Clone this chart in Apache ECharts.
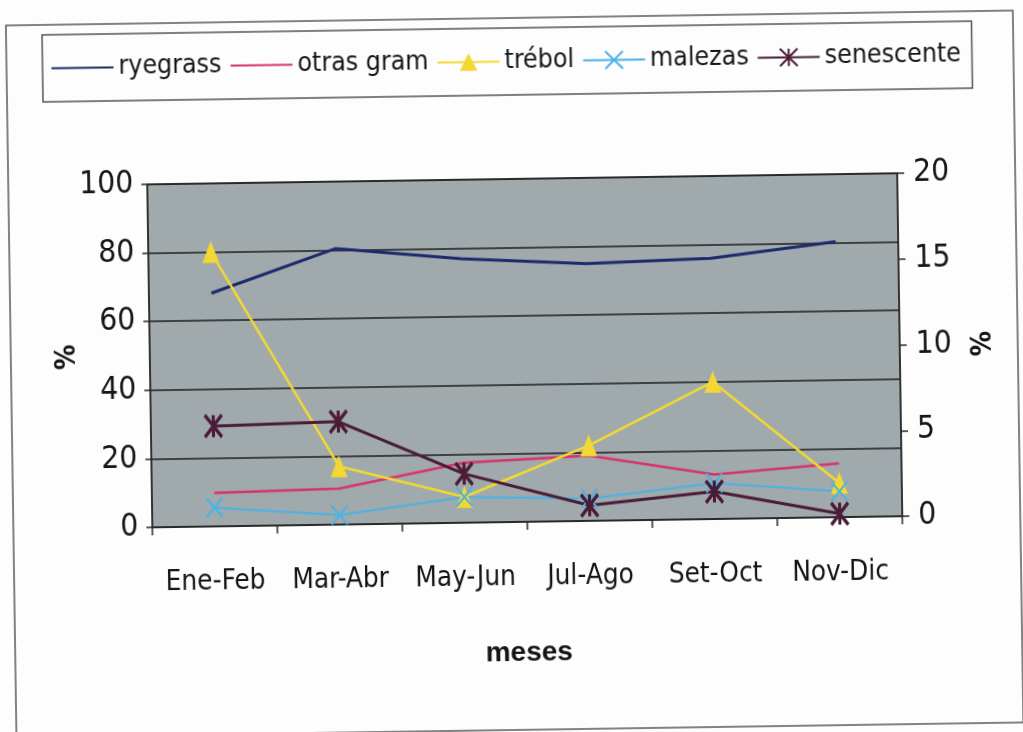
<!DOCTYPE html>
<html>
<head>
<meta charset="utf-8">
<script src="https://cdn.jsdelivr.net/npm/echarts@6/dist/echarts.min.js"></script>
<style>
  html, body { margin: 0; padding: 0; background: #fdfdfd; overflow: hidden; }
  #chart { width: 1023px; height: 732px; transform: rotate(-0.85deg); transform-origin: 50% 50%; }
</style>
</head>
<body>
<div id="chart"></div>
<script>
// Composición botánica por bimestre (%)
const categories = ['Ene-Feb', 'Mar-Abr', 'May-Jun', 'Jul-Ago', 'Set-Oct', 'Nov-Dic'];
// eje izquierdo (0-100)
const ryegrass = [68, 80.5, 77, 75, 76, 80.3];
const otrasGram = [9.8, 10.5, 17.5, 19, 13, 15.7];
// eje derecho (0-20)
const trebol = [16.0, 3.4, 1.5, 4.4, 8.0, 2.0];
const malezas = [1.1, 0.55, 1.5, 1.3, 2.1, 1.5];
const senescente = [5.85, 6.0, 2.85, 0.9, 1.6, 0.2];

const seriesNames = ['ryegrass', 'otras gram', 'trébol', 'malezas', 'senescente'];
const leftTicks = { min: 0, max: 100, interval: 20 };
const rightTicks = { min: 0, max: 20, interval: 5 };

// pick the narrowest installed sans face
const probe = document.createElement('canvas').getContext('2d');
function widthOf(text, font) { probe.font = font; return probe.measureText(text).width; }
function installed(family) {
  const s = 'mmmmwwiilQ0123';
  return widthOf(s, `72px "${family}", monospace`) !== widthOf(s, '72px monospace') ||
         widthOf(s, `72px "${family}", serif`) !== widthOf(s, '72px serif');
}
const CANDIDATES = ['Noto Sans ExtraCondensed', 'Noto Sans Condensed', 'Liberation Sans Narrow', 'DejaVu Sans Condensed', 'Liberation Sans'];
const FACE = CANDIDATES.find(installed) || 'sans-serif';
const NARROW = `"${FACE}", sans-serif`;
// font size that gives a string the wanted width, capped
function fit(text, width, cap) {
  return Math.min(cap, Math.round(10 * 100 * width / widthOf(text, `100px ${NARROW}`)) / 10);
}
const legendSize = fit('senescente', 136, 33);
const catSize = fit('Ene-Feb', 100, 36);
const valSize = fit('100', 54, 37);
const nameSize = fit('%', 24, 34);

const INK = '#141414';
const X_PATH = 'path://M0,0L10,10M10,0L0,10';
const STAR_PATH = 'path://M0,0L10,10M10,0L0,10M5,0L5,10';

const chart = echarts.init(document.getElementById('chart'), null, { renderer: 'canvas' });

chart.setOption({
  animation: false,
  backgroundColor: 'transparent',
  textStyle: { fontFamily: NARROW, color: INK },
  graphic: [{
    type: 'rect',
    shape: { x: 11, y: 18, width: 1007, height: 712 },
    style: { fill: 'none', stroke: '#5a5a5a', lineWidth: 1.5 },
    silent: true,
    z: -1
  }],
  legend: {
    left: 47,
    top: 28,
    padding: [20, 11, 20, 8],
    borderColor: '#555',
    borderWidth: 1.5,
    itemWidth: 62,
    itemHeight: 22,
    itemGap: 8,
    textStyle: { fontFamily: NARROW, fontSize: legendSize, color: INK },
    data: seriesNames.map((name, i) => i < 2 ? { name, itemStyle: { opacity: 0 } } : { name })
  },
  grid: {
    left: 150, right: 123, top: 179, bottom: 210,
    show: true,
    backgroundColor: '#a0a9ac',
    borderColor: '#2a2a2a',
    borderWidth: 1.5
  },
  xAxis: {
    type: 'category',
    data: categories,
    name: 'meses',
    nameLocation: 'middle',
    nameGap: 117,
    nameTextStyle: { fontFamily: "'Liberation Sans', Arial, sans-serif", fontWeight: 'bold', fontSize: 28, color: INK },
    axisLine: { lineStyle: { color: '#2a2a2a', width: 1.5 } },
    axisTick: { show: true, length: 8, lineStyle: { color: '#2a2a2a', width: 1.5 } },
    axisLabel: { interval: 0, fontSize: catSize, margin: 42, color: INK }
  },
  yAxis: [{
    type: 'value',
    position: 'left',
    min: leftTicks.min, max: leftTicks.max, interval: leftTicks.interval,
    name: '%',
    nameLocation: 'middle',
    nameRotate: 90,
    nameGap: 68,
    nameMoveOverlap: false,
    nameTextStyle: { fontSize: nameSize, fontWeight: 'bold', color: INK },
    axisLine: { show: true, lineStyle: { color: '#2a2a2a', width: 1.5 } },
    axisTick: { show: true, length: 6, lineStyle: { color: '#2a2a2a', width: 1.5 } },
    axisLabel: { fontSize: valSize, margin: 14, color: INK },
    splitLine: { show: true, lineStyle: { color: '#1e1e1e', width: 1.5 } }
  }, {
    type: 'value',
    position: 'right',
    min: rightTicks.min, max: rightTicks.max, interval: rightTicks.interval,
    name: '%',
    nameLocation: 'middle',
    nameRotate: 90,
    nameGap: 70,
    nameMoveOverlap: false,
    nameTextStyle: { fontSize: nameSize, fontWeight: 'bold', color: INK },
    axisLine: { show: true, lineStyle: { color: '#2a2a2a', width: 1.5 } },
    axisTick: { show: true, length: 7, lineStyle: { color: '#2a2a2a', width: 1.5 } },
    axisLabel: { fontSize: valSize, margin: 16, color: INK },
    splitLine: { show: false }
  }],
  series: [{
    name: seriesNames[0],
    type: 'line',
    yAxisIndex: 0,
    data: ryegrass,
    symbol: 'none',
    itemStyle: { color: '#1c2a6b' },
    lineStyle: { color: '#1c2a6b', width: 3 }
  }, {
    name: seriesNames[1],
    type: 'line',
    yAxisIndex: 0,
    data: otrasGram,
    symbol: 'none',
    itemStyle: { color: '#d8336b' },
    lineStyle: { color: '#d8336b', width: 2.5 }
  }, {
    name: seriesNames[2],
    type: 'line',
    yAxisIndex: 1,
    data: trebol,
    symbol: 'triangle',
    symbolSize: [17, 22],
    itemStyle: { color: '#f3d834' },
    lineStyle: { color: '#f3d834', width: 2.5 }
  }, {
    name: seriesNames[3],
    type: 'line',
    yAxisIndex: 1,
    data: malezas,
    symbol: X_PATH,
    symbolSize: [16, 19],
    itemStyle: { color: '#47b3e6', borderColor: '#47b3e6', borderWidth: 2 },
    lineStyle: { color: '#47b3e6', width: 2 }
  }, {
    name: seriesNames[4],
    type: 'line',
    yAxisIndex: 1,
    data: senescente,
    symbol: STAR_PATH,
    symbolSize: [17, 22],
    itemStyle: { color: '#4b1c37', borderColor: '#4b1c37', borderWidth: 3.5 },
    lineStyle: { color: '#4b1c37', width: 3 }
  }]
});
</script>
</body>
</html>
